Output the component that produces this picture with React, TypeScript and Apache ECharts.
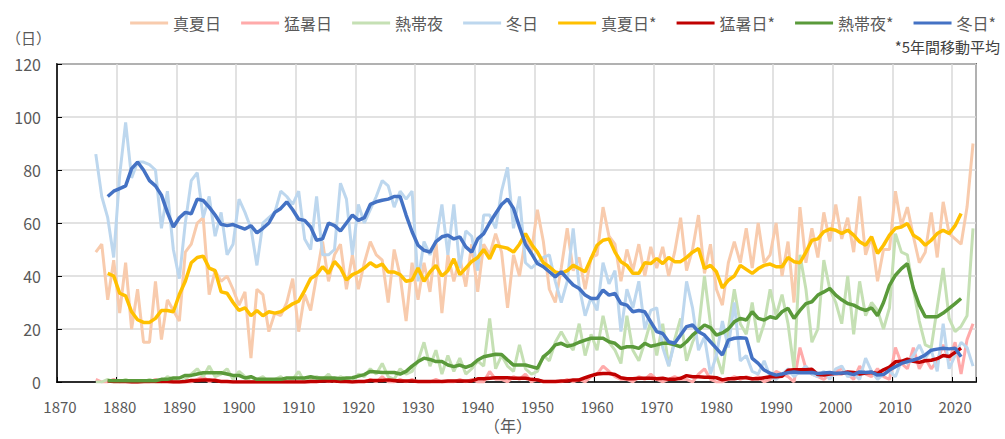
import React, { useEffect, useRef } from 'react';
import * as echarts from 'echarts';

const FIRST_YEAR = 1870;
const LAST_YEAR = 2023;
const RAW_START = 1876;
const MA_START = 1878;

const years: string[] = [];
for (let y = FIRST_YEAR; y <= LAST_YEAR; y++) years.push(String(y));

// 真夏日 (1876-2023)
const summerDays = [
  49, 52, 31, 46, 26, 45, 20, 35, 15, 15,
  38, 16, 31, 27, 23, 49, 52, 60, 62, 33,
  42, 38, 40, 35, 29, 34, 9, 35, 33, 19,
  26, 25, 30, 39, 19, 33, 27, 40, 53, 38,
  48, 52, 35, 48, 35, 45, 53, 48, 46, 30,
  50, 40, 23, 45, 31, 45, 34, 53, 26, 48,
  38, 47, 36, 52, 34, 52, 48, 56, 49, 28,
  48, 40, 54, 49, 65, 53, 35, 30, 43, 58,
  42, 47, 35, 47, 48, 66, 55, 52, 38, 50,
  42, 52, 40, 51, 43, 51, 40, 49, 62, 42,
  50, 63, 41, 52, 35, 29, 45, 53, 45, 58,
  43, 60, 45, 48, 60, 40, 53, 30, 66, 45,
  58, 47, 64, 53, 67, 54, 62, 49, 70, 48,
  55, 38, 50, 50, 72, 59, 66, 55, 45, 49,
  64, 47, 68, 56, 54, 52, 66, 90,
];

// 猛暑日 (1876-2023)
const heatDays = [
  1, 0, 0, 1, 0, 0, 0, 0, 0, 0,
  1, 0, 0, 0, 0, 0, 0, 1, 2, 0,
  1, 0, 0, 0, 0, 0, 0, 0, 0, 0,
  0, 0, 0, 0, 0, 0, 0, 0, 1, 0,
  1, 0, 0, 0, 0, 0, 1, 0, 2, 0,
  0, 1, 0, 1, 0, 0, 0, 1, 0, 0,
  0, 1, 0, 1, 0, 0, 4, 1, 1, 0,
  2, 1, 3, 0, 1, 0, 0, 0, 0, 1,
  0, 1, 0, 2, 3, 6, 4, 2, 1, 1,
  0, 2, 1, 3, 1, 0, 1, 2, 1, 1,
  0, 3, 5, 1, 0, 0, 1, 2, 1, 2,
  1, 2, 0, 1, 4, 3, 2, 0, 13, 5,
  3, 2, 1, 3, 4, 5, 3, 1, 6, 3,
  2, 5, 2, 1, 13, 7, 5, 13, 5, 9,
  5, 8, 14, 8, 15, 3, 16, 22,
];

// 熱帯夜 (1876-2023)
const tropicalNights = [
  0, 0, 1, 0, 0, 1, 0, 0, 0, 1,
  0, 0, 2, 1, 0, 1, 3, 5, 2, 6,
  2, 3, 5, 1, 4, 2, 0, 1, 2, 0,
  1, 2, 0, 1, 4, 0, 1, 2, 1, 3,
  0, 2, 1, 0, 3, 2, 5, 3, 7, 2,
  1, 5, 3, 4, 8, 15, 6, 12, 3, 10,
  4, 9, 3, 5, 8, 6, 24, 5, 10, 6,
  4, 14, 5, 3, 4, 10, 8, 15, 19, 15,
  12, 22, 10, 18, 12, 25, 15, 12, 7, 25,
  12, 8, 15, 23, 10, 22, 6, 16, 24, 8,
  15, 20, 40, 22, 10, 3, 20, 35, 22, 18,
  30, 15, 22, 35, 25, 33, 22, 5, 48, 35,
  15, 20, 46, 35, 30, 22, 40, 18, 38, 25,
  30, 27, 20, 28, 56, 49, 48, 35, 23, 14,
  13, 28, 43, 24, 19, 21, 25, 58,
];

// 冬日 (1876-2023)
const winterDays = [
  86, 70, 62, 47, 78, 98, 77, 83, 83, 82,
  80, 58, 72, 50, 39, 60, 76, 79, 62, 70,
  55, 64, 48, 52, 69, 64, 58, 44, 60, 62,
  64, 72, 70, 67, 72, 54, 50, 70, 48, 48,
  50, 75, 69, 48, 67, 60, 65, 70, 76, 74,
  66, 72, 69, 72, 38, 53, 48, 53, 67, 48,
  67, 43, 57, 55, 42, 63, 63, 58, 72, 81,
  58, 70, 45, 43, 45, 47, 48, 38, 30, 38,
  58, 36, 25, 32, 27, 45, 37, 42, 19, 35,
  28, 38, 20, 27, 28, 13, 6, 15, 18, 38,
  28, 12, 17, 3, 10, 23, 13, 30, 8, 10,
  4, 3, 8, 2, 1, 3, 5, 2, 4, 6,
  3, 2, 4, 1, 5, 6, 2, 3, 1, 9,
  4, 1, 3, 4, 2, 8, 7, 10, 14, 9,
  12, 4, 22, 5, 10, 15, 13, 6,
];

// 5年間移動平均 (1878-2021)
const summerMA = [
  41, 40, 33.5, 32.5, 26.5, 23.5, 22.5, 22.5, 24, 27,
  27, 26.5, 33, 38, 45, 47, 47.5, 43, 42, 34,
  33.5, 30, 27, 28, 25, 27, 25, 26.5, 26, 26.5,
  28, 29.5, 30.5, 34.5, 39, 40.5, 43.5, 41, 45.5, 43,
  38.5, 40.5, 41.5, 43, 45, 43.5, 44.5, 41.5, 41.5, 40.5,
  38, 38.5, 43, 38, 41.5, 44, 40, 42, 46.5, 40.5,
  43, 45.5, 47, 50, 46.5, 51.5, 51, 50.5, 49, 52,
  56, 52, 49, 45, 43.5, 41.5, 41, 42, 44, 42.8,
  41.6, 46.6, 51.6, 53.5, 54, 49, 45.4, 44, 41, 41,
  45, 44.7, 46.6, 44.7, 47, 45.4, 45.4, 47, 49, 50.4,
  42.8, 44, 41.6, 35.5, 38.4, 40, 44, 42.5, 41, 42.8,
  44, 44.5, 43.5, 43.5, 47, 45.4, 45, 49, 53.5, 54,
  56.7, 57.7, 57.3, 56, 57.3, 55.4, 52.9, 51.6, 54.8, 48.5,
  51.6, 55.4, 58, 58.5, 59.8, 55.4, 54, 51.6, 53.5, 56,
  57.3, 56, 59, 63.6,
];

const heatMA = [
  0.4, 0.2, 0.2, 0.2, 0, 0, 0.2, 0.2, 0.2, 0.2,
  0.2, 0, 0, 0.2, 0.6, 0.6, 0.8, 0.8, 0.6, 0.2,
  0.2, 0, 0, 0, 0, 0, 0, 0, 0, 0,
  0, 0, 0, 0, 0.2, 0.2, 0.4, 0.4, 0.4, 0.2,
  0.2, 0, 0.2, 0.2, 0.6, 0.6, 0.6, 0.8, 0.6, 0.4,
  0.4, 0.4, 0.2, 0.2, 0.2, 0.2, 0.2, 0.4, 0.4, 0.4,
  0.4, 0.4, 1.2, 1.2, 1.4, 1.6, 1.6, 1.6, 1.4, 1.4,
  1.4, 1, 0.8, 0.2, 0.2, 0.2, 0.4, 0.4, 0.8, 0.8,
  1.6, 2.4, 3, 3.2, 3.2, 2.8, 1.6, 1.2, 1.2, 1.4,
  1.4, 1.4, 1.2, 1.4, 1, 1, 1.4, 2.4, 2, 2,
  1.8, 1.8, 1.6, 0.8, 1.2, 1.2, 1.6, 1.6, 1.2, 1.2,
  1.6, 2, 2, 2.2, 4.4, 4.6, 4.6, 4.6, 4.8, 2.8,
  2.6, 3, 3.2, 3.2, 3.8, 3.6, 3, 3.4, 3.6, 3.2,
  4.6, 5.6, 7.6, 7.8, 8.6, 7.8, 7.4, 8, 8.2, 8.8,
  10, 9.6, 11.2, 12.8,
];

const tropicalMA = [
  0.5, 0.5, 0.5, 0.5, 0.5, 0.5, 0.5, 0.5, 0.5, 1,
  1, 1.5, 1.5, 2.5, 2.5, 3, 3.5, 3.5, 3.5, 3.5,
  3, 2.5, 2.5, 1.5, 2, 1, 1, 1, 1, 1,
  1.5, 1.5, 1.5, 1.5, 2, 1.5, 1.5, 1.5, 1.5, 1.2,
  1.5, 1.6, 2.2, 2.8, 4, 3.8, 3.6, 3.6, 3.6, 3,
  4, 6, 7.7, 9, 8.5, 7.7, 7.7, 6.4, 5.8, 6.4,
  5.5, 6.4, 8.3, 9.5, 10, 10.5, 10.4, 8.3, 6.4, 6.4,
  6.4, 5.8, 5.2, 9.5, 11.4, 14, 14.6, 13.5, 14, 15,
  15.8, 16.5, 16.5, 16.5, 15.2, 14.6, 12.7, 13.3, 13.3, 12.7,
  14.6, 13.5, 14, 14.6, 14.6, 14, 13.3, 15.2, 17.7, 19.6,
  21.5, 20.5, 17.7, 18.5, 20, 22.7, 24, 23.4, 26.5, 24,
  23.4, 24.6, 24, 26.5, 27.8, 24, 27, 29.6, 30.3, 32.8,
  34, 35.3, 32.8, 31, 29.6, 29, 27.8, 27, 28, 25,
  30, 36.5, 40.3, 42.8, 44.7, 35.3, 29, 24.6, 24.6, 24.6,
  26, 27.8, 29.6, 31.5,
];

const winterMA = [
  70, 72, 73, 74, 80.5, 83, 80, 76, 74, 70.5,
  64, 58.5, 62, 64, 63.5, 69, 68.5, 66, 63, 59.5,
  59, 59.4, 58.5, 57.7, 59, 56.3, 58, 60, 64, 65.5,
  68, 65, 61.4, 61, 58.5, 53.5, 54, 60, 59, 57,
  60, 63, 61, 62, 67, 68, 68.6, 69, 70, 70,
  63, 56.7, 51.6, 49.7, 49, 53, 54.8, 55.4, 54, 54.8,
  51, 49, 54, 56, 60, 63.6, 67, 69, 65.5, 58.5,
  52, 48.5, 44.7, 43.5, 41.6, 39.7, 41.6, 39, 36.6, 35.3,
  32.8, 31.5, 31.5, 34.7, 32.8, 33.4, 29.6, 29, 26.5, 27,
  26.5, 22.7, 19, 18.3, 15.2, 14.6, 17.7, 20.9, 21.5, 19,
  17.7, 15.2, 12.7, 10.2, 15.8, 16.5, 16.7, 16.5, 8.9, 7,
  4.5, 3.3, 2.6, 3, 3.5, 3.8, 3.5, 3.5, 3.6, 3.2,
  3.4, 3.6, 3.2, 3.4, 3.4, 2.8, 3.8, 3.6, 3.8, 2.6,
  2.8, 4.5, 5.8, 7, 7.7, 8.3, 9, 10.2, 12, 12.4,
  12.7, 12.5, 12.7, 9.5,
];

const seriesNames = ['真夏日', '猛暑日', '熱帯夜', '冬日', '真夏日*', '猛暑日*', '熱帯夜*', '冬日*'];
const seriesColors = ['#F8CBAD', '#FFAAAA', '#C5E0B4', '#BDD7EE', '#FFC000', '#C00000', '#5A9A3A', '#4472C4'];

function align(values: number[], start: number): (number | null)[] {
  return years.map((y) => {
    const i = Number(y) - start;
    return i >= 0 && i < values.length ? values[i] : null;
  });
}

const FONT = '"Noto Sans CJK JP", "Noto Sans", sans-serif';

export default function App() {
  const ref = useRef<HTMLDivElement>(null);
  useEffect(() => {
    if (!ref.current) return;
    const chart = echarts.init(ref.current, null, { renderer: 'svg' });
    const dataSets = [
      align(summerDays, RAW_START),
      align(heatDays, RAW_START),
      align(tropicalNights, RAW_START),
      align(winterDays, RAW_START),
      align(summerMA, MA_START),
      align(heatMA, MA_START),
      align(tropicalMA, MA_START),
      align(winterMA, MA_START),
    ];
    const series = seriesNames.map((name, i) => ({
      name,
      type: 'line',
      data: dataSets[i],
      showSymbol: false,
      symbol: 'none',
      silent: true,
      lineStyle: { color: seriesColors[i], width: i < 4 ? 3 : 3.5 },
      itemStyle: { color: seriesColors[i] },
      emphasis: { disabled: true },
    }));
    chart.setOption({
      animation: false,
      backgroundColor: '#ffffff',
      textStyle: { fontFamily: FONT },
      grid: {
        left: 57,
        right: 29,
        top: 64,
        bottom: 57,
        show: true,
        borderColor: '#000',
        borderWidth: 1.5,
        containLabel: false,
        outerBoundsMode: 'none',
      },
      legend: {
        data: seriesNames,
        top: 10,
        right: 4,
        icon: 'rect',
        itemWidth: 38,
        itemHeight: 3,
        itemGap: 20,
        textStyle: { fontSize: 16, color: '#595959', fontFamily: FONT },
      },
      xAxis: {
        type: 'category',
        data: years,
        boundaryGap: true,
        axisLine: { lineStyle: { color: '#000', width: 1.5 } },
        axisTick: { show: true, inside: true, length: 5, interval: 9, lineStyle: { color: '#000' } },
        axisLabel: { interval: 9, margin: 17, fontSize: 15, color: '#595959', fontFamily: FONT },
        splitLine: { show: true, interval: 9, lineStyle: { color: '#D9D9D9', width: 1.5 } },
      },
      yAxis: {
        type: 'value',
        min: 0,
        max: 120,
        interval: 20,
        axisLine: { show: true, lineStyle: { color: '#000', width: 1.5 } },
        axisTick: { show: true, inside: true, length: 5, lineStyle: { color: '#000' } },
        axisLabel: { fontSize: 16, color: '#595959', margin: 16, fontFamily: FONT },
        splitLine: { show: true, lineStyle: { color: '#D9D9D9', width: 1.5 } },
      },
      graphic: [
        { type: 'text', left: 6, top: 30, style: { text: '（日）', fontSize: 15, fill: '#595959', fontFamily: FONT } },
        { type: 'text', left: 484, top: 417, style: { text: '（年）', fontSize: 16, fill: '#595959', fontFamily: FONT } },
        { type: 'text', right: 5, top: 39, style: { text: '*5年間移動平均', fontSize: 15, fill: '#404040', fontFamily: FONT } },
      ],
      series,
    });
    return () => chart.dispose();
  }, []);
  return (
    <div
      ref={ref}
      style={{ position: 'absolute', left: 0, top: 0, width: 1005, height: 439, background: '#fff' }}
    />
  );
}
